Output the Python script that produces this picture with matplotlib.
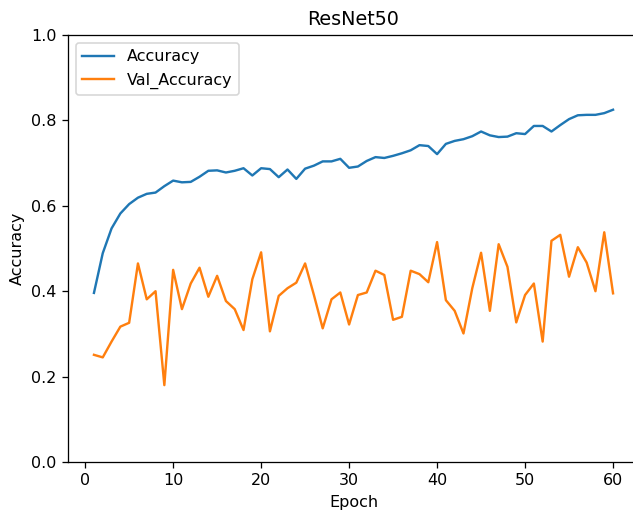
import matplotlib
matplotlib.use("Agg")
import matplotlib.pyplot as plt

epochs = list(range(1, 61))

accuracy = [
    0.396, 0.489, 0.547, 0.582, 0.604, 0.619, 0.628, 0.631, 0.646, 0.659,
    0.655, 0.656, 0.668, 0.682, 0.683, 0.678, 0.682, 0.688, 0.671, 0.688,
    0.686, 0.667, 0.685, 0.663, 0.687, 0.694, 0.704, 0.704, 0.710, 0.689,
    0.692, 0.705, 0.714, 0.712, 0.717, 0.723, 0.730, 0.742, 0.740, 0.721,
    0.745, 0.752, 0.756, 0.763, 0.774, 0.765, 0.761, 0.762, 0.770, 0.768,
    0.787, 0.787, 0.774, 0.789, 0.803, 0.812, 0.813, 0.813, 0.817, 0.825,
]

val_accuracy = [
    0.251, 0.245, 0.282, 0.317, 0.326, 0.465, 0.381, 0.400, 0.180, 0.450,
    0.358, 0.418, 0.455, 0.387, 0.436, 0.377, 0.358, 0.309, 0.428, 0.491,
    0.306, 0.389, 0.407, 0.420, 0.465, 0.391, 0.313, 0.381, 0.397, 0.322,
    0.391, 0.397, 0.448, 0.438, 0.333, 0.340, 0.448, 0.440, 0.421, 0.515,
    0.379, 0.354, 0.301, 0.407, 0.490, 0.354, 0.510, 0.457, 0.327, 0.391,
    0.418, 0.282, 0.518, 0.532, 0.434, 0.503, 0.467, 0.400, 0.538, 0.395,
]

DPI = 115
W, H = 633, 514
fig = plt.figure(figsize=(W / DPI, H / DPI), dpi=DPI)
ax = fig.add_axes([68 / W, 52 / H, 571 / W, 427 / H])

ax.plot(epochs, accuracy, label="Accuracy")
ax.plot(epochs, val_accuracy, label="Val_Accuracy")
ax.set_ylim(0, 1)
ax.set_title("ResNet50")
ax.set_xlabel("Epoch")
ax.set_ylabel("Accuracy")
ax.legend(loc="upper left")
ax.spines["right"].set_visible(False)

fig.savefig("out.png", dpi=DPI)
